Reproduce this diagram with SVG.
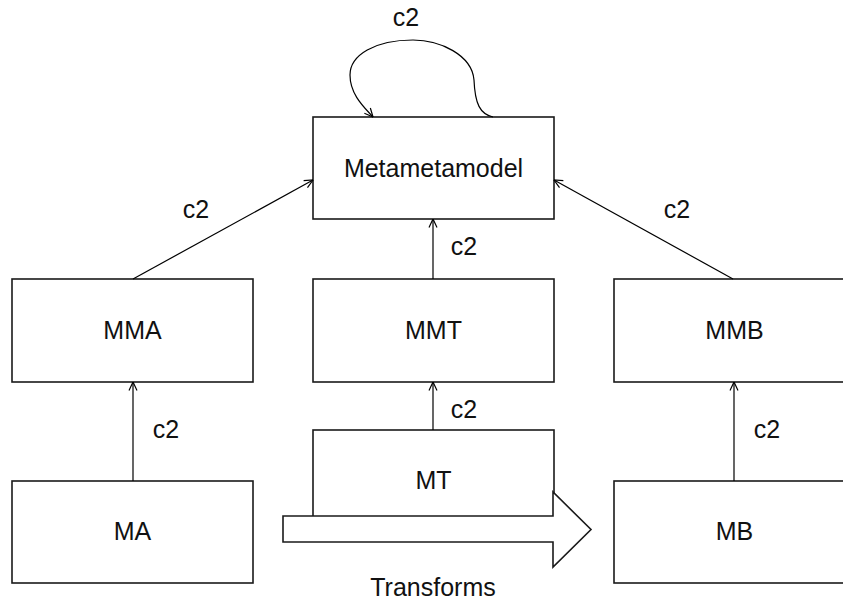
<svg xmlns="http://www.w3.org/2000/svg" width="843" height="601" viewBox="0 0 843 601">
  <style>
    .box { fill: #ffffff; stroke: #1a1a1a; stroke-width: 1.6; }
    .lbl { font-family: "Liberation Sans", Arial, sans-serif; font-size: 25px; fill: #111111; text-anchor: middle; }
    .edge { fill: none; stroke: #000000; stroke-width: 1.2; marker-end: url(#open); }
  </style>
  <defs>
    <marker id="open" viewBox="0 0 10 10" refX="9.5" refY="5" markerWidth="10" markerHeight="10" markerUnits="userSpaceOnUse" orient="auto">
      <path d="M1,1 L9.5,5 L1,9" fill="none" stroke="#000000" stroke-width="1.2"/>
    </marker>
  </defs>

  <!-- nodes -->
  <g id="metametamodel">
    <rect class="box" x="313" y="117" width="241" height="102"/>
    <text class="lbl" x="433.5" y="177">Metametamodel</text>
  </g>
  <g id="mma">
    <rect class="box" x="12" y="279" width="241" height="103"/>
    <text class="lbl" x="132.5" y="339">MMA</text>
  </g>
  <g id="mmt">
    <rect class="box" x="313" y="279" width="241" height="103"/>
    <text class="lbl" x="433.5" y="339">MMT</text>
  </g>
  <g id="mmb">
    <rect class="box" x="614" y="279" width="241" height="103"/>
    <text class="lbl" x="734.5" y="339">MMB</text>
  </g>
  <g id="ma">
    <rect class="box" x="12" y="481" width="241" height="102"/>
    <text class="lbl" x="132.5" y="540">MA</text>
  </g>
  <g id="mt">
    <rect class="box" x="313" y="430" width="241" height="103"/>
    <text class="lbl" x="433.5" y="489">MT</text>
  </g>
  <g id="mb">
    <rect class="box" x="614" y="481" width="241" height="102"/>
    <text class="lbl" x="734.5" y="540">MB</text>
  </g>
  <g id="transforms">
    <polygon class="box" points="283,516 553,516 553,492 591,529.5 553,567 553,542 283,542"/>
    <text class="lbl" x="433" y="596">Transforms</text>
  </g>

  <!-- connectors -->
  <g id="connectors">
    <path class="edge" d="M493,117 C480,114 475,104 474,80 C472,55 440,40 413,40 C375,40 350,55 350,75 C350,95 365,108 373,117"/>
    <path class="edge" d="M133,279 L313,180"/>
    <path class="edge" d="M733,279 L554,180"/>
    <path class="edge" d="M433,279 L433,219"/>
    <path class="edge" d="M433,430 L433,382"/>
    <path class="edge" d="M133,481 L133,382"/>
    <path class="edge" d="M734,481 L734,382"/>
    <text class="lbl" x="406" y="26">c2</text>
    <text class="lbl" x="196" y="218">c2</text>
    <text class="lbl" x="677" y="218">c2</text>
    <text class="lbl" x="464" y="255">c2</text>
    <text class="lbl" x="464" y="418">c2</text>
    <text class="lbl" x="166" y="438">c2</text>
    <text class="lbl" x="767" y="438">c2</text>
  </g>
</svg>
